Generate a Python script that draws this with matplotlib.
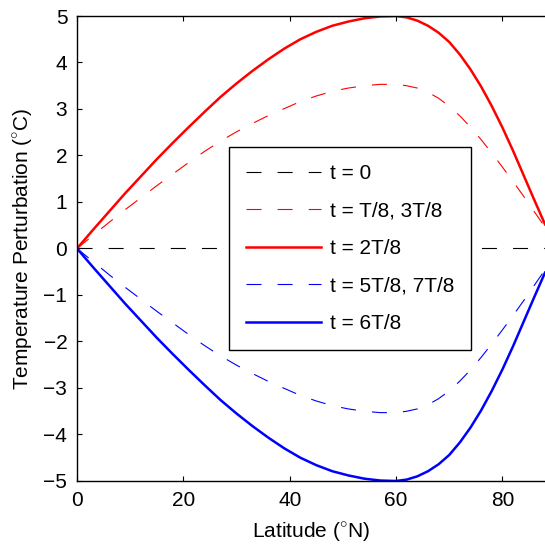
import matplotlib
matplotlib.use('Agg')
import matplotlib.pyplot as plt

plt.rcParams['font.family'] = ['Liberation Sans', 'DejaVu Sans']
plt.rcParams['mathtext.fontset'] = 'custom'
plt.rcParams['mathtext.rm'] = 'Liberation Sans'

# latitude (deg N) and temperature perturbation (C)
lat = [0, 3, 6, 9, 12, 15, 18, 21, 24, 27, 30, 33, 36, 39, 42, 45, 48, 51, 54,
       57, 60, 62, 64, 66, 68, 70, 72, 74, 76, 78, 80, 82, 84, 86, 88]
t0 = [0] * len(lat)
t_1_3 = [0, 0.28, 0.56, 0.83, 1.09, 1.35, 1.60, 1.85, 2.09, 2.31, 2.51, 2.69,
         2.86, 3.01, 3.16, 3.28, 3.38, 3.45, 3.50, 3.53, 3.53, 3.50, 3.45, 3.36,
         3.23, 3.06, 2.85, 2.61, 2.34, 2.05, 1.75, 1.44, 1.12, 0.79, 0.46]
t_2 = [0, 0.40, 0.79, 1.18, 1.55, 1.92, 2.27, 2.61, 2.94, 3.26, 3.55, 3.82,
       4.07, 4.30, 4.50, 4.66, 4.79, 4.88, 4.95, 4.99, 5.00, 4.97, 4.90, 4.79,
       4.64, 4.44, 4.17, 3.85, 3.48, 3.06, 2.60, 2.10, 1.57, 1.04, 0.52]
t_5_7 = [0, -0.28, -0.56, -0.83, -1.09, -1.35, -1.60, -1.85, -2.09, -2.31,
         -2.51, -2.69, -2.86, -3.01, -3.16, -3.28, -3.38, -3.45, -3.50, -3.53,
         -3.53, -3.50, -3.45, -3.36, -3.23, -3.06, -2.85, -2.61, -2.34, -2.05,
         -1.75, -1.44, -1.12, -0.79, -0.46]
t_6 = [0, -0.40, -0.79, -1.18, -1.55, -1.92, -2.27, -2.61, -2.94, -3.26,
       -3.55, -3.82, -4.07, -4.30, -4.50, -4.66, -4.79, -4.88, -4.95, -4.99,
       -5.00, -4.97, -4.90, -4.79, -4.64, -4.44, -4.17, -3.85, -3.48, -3.06,
       -2.60, -2.10, -1.57, -1.04, -0.52]

labels = ['t = 0', 't = T/8, 3T/8', 't = 2T/8', 't = 5T/8, 7T/8', 't = 6T/8']

fig = plt.figure(figsize=(5.45, 5.48), dpi=100)
ax = fig.add_axes([0.1413, 0.1223, 0.8587, 0.8485])

dash = (13.5, 14.5)
ax.plot(lat, t0, color='k', lw=0.8, dashes=dash, label=labels[0])
ax.plot(lat, t_1_3, color='r', lw=0.8, dashes=dash, label=labels[1])
ax.plot(lat, t_2, color='r', lw=1.8, label=labels[2])
ax.plot(lat, t_5_7, color='b', lw=0.8, dashes=dash, label=labels[3])
ax.plot(lat, t_6, color='b', lw=1.8, label=labels[4])

ax.set_xlim(0, 88)
ax.set_ylim(-5, 5)
ax.set_xticks([0, 20, 40, 60, 80])
ax.set_yticks(range(-5, 6))
ax.tick_params(direction='in', length=3.5, width=0.8, labelsize=15,
               top=True, right=False, pad=7)
for s in ['left', 'bottom', 'top']:
    ax.spines[s].set_linewidth(1.0)
ax.spines['right'].set_visible(False)

ax.set_xlabel(r'Latitude ($^{\circ}$N)', fontsize=15, labelpad=8)
ax.set_ylabel(r'Temperature Perturbation ($^{\circ}$C)', fontsize=15,
              labelpad=6)

leg = ax.legend(loc='upper left', bbox_to_anchor=(0.325, 0.718),
                borderaxespad=0, fontsize=15, handlelength=3.6,
                handletextpad=0.45, labelspacing=0.89, borderpad=0.8,
                fancybox=False, edgecolor='k', framealpha=1)
leg.get_frame().set_linewidth(1.0)

fig.savefig('out.png', dpi=100)
